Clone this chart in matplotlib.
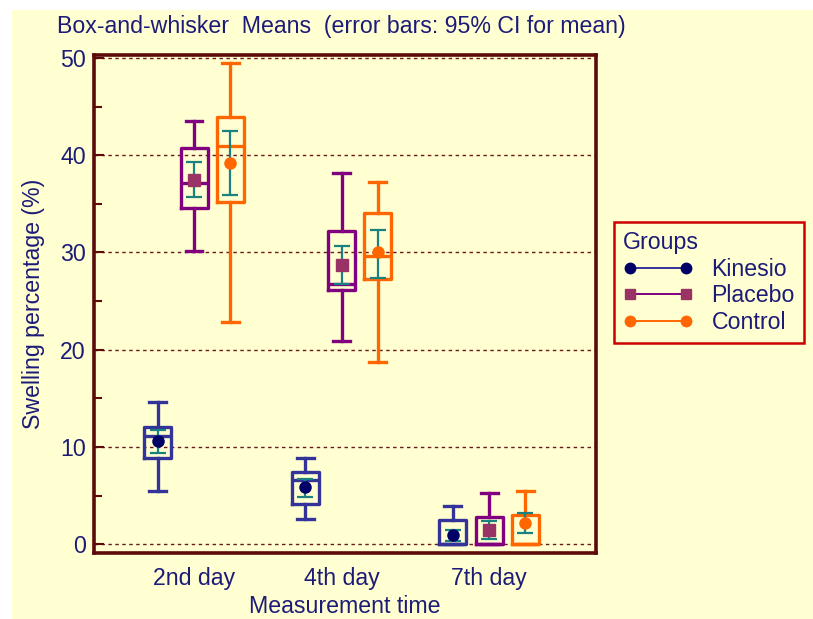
import matplotlib
matplotlib.use("Agg")
import matplotlib.pyplot as plt
from matplotlib.lines import Line2D
from matplotlib.patches import Rectangle
from matplotlib.ticker import MultipleLocator

plt.rcParams['font.family'] = ['Liberation Sans', 'DejaVu Sans']

categories = ["2nd day", "4th day", "7th day"]
groups = ["Kinesio", "Placebo", "Control"]

# box-and-whisker stats per group, per category
whislo = {"Kinesio": [5.5, 2.6, 0.0], "Placebo": [30.2, 20.9, 0.0], "Control": [22.8, 18.7, 0.0]}
q1     = {"Kinesio": [8.9, 4.1, 0.0], "Placebo": [34.6, 26.1, 0.0], "Control": [35.2, 27.3, 0.0]}
med    = {"Kinesio": [11.1, 6.6, 0.0], "Placebo": [37.1, 26.8, 0.0], "Control": [40.9, 29.6, 0.0]}
q3     = {"Kinesio": [12.1, 7.4, 2.5], "Placebo": [40.7, 32.2, 2.8], "Control": [43.9, 34.1, 3.0]}
whishi = {"Kinesio": [14.6, 8.85, 3.9], "Placebo": [43.5, 38.2, 5.3], "Control": [49.5, 37.2, 5.5]}
means  = {"Kinesio": [10.6, 5.9, 0.9], "Placebo": [37.5, 28.7, 1.5], "Control": [39.2, 30.0, 2.2]}
ci_lo  = {"Kinesio": [9.4, 4.9, 0.3], "Placebo": [35.7, 26.8, 0.5], "Control": [35.9, 27.4, 1.2]}
ci_hi  = {"Kinesio": [11.7, 6.7, 1.5], "Placebo": [39.3, 30.7, 2.4], "Control": [42.5, 32.3, 3.2]}

box_colors = {"Kinesio": "#333399", "Placebo": "#800080", "Control": "#FF6600"}
mean_colors = {"Kinesio": "#000066", "Placebo": "#993366", "Control": "#FF6600"}
mean_markers = {"Kinesio": "o", "Placebo": "s", "Control": "o"}
offsets = {"Kinesio": -0.247, "Placebo": 0.0, "Control": 0.247}

bg = "#FFFFD2"
frame_c = "#5C0A0A"
text_c = "#1C1C78"
ci_c = "#1A8080"
fs = 16.7

fig = plt.figure(figsize=(8.13, 6.19), dpi=100, facecolor="white")
fig.patches.append(Rectangle((12 / 813, 0), 1, 1 - 10 / 619, transform=fig.transFigure,
                             facecolor=bg, edgecolor="none", zorder=-10))

ax = fig.add_axes([94 / 813, 1 - 553 / 619, (596 - 94) / 813, (553 - 55) / 619])
ax.set_facecolor(bg)

for g in groups:
    c = box_colors[g]
    stats = []
    pos = []
    for i in range(len(categories)):
        stats.append(dict(whislo=whislo[g][i], q1=q1[g][i], med=med[g][i], q3=q3[g][i],
                          whishi=whishi[g][i], mean=means[g][i], fliers=[]))
        pos.append(i + 1 + offsets[g])
    ax.bxp(stats, positions=pos, widths=0.183, showmeans=False, showfliers=False,
           boxprops=dict(color=c, linewidth=2.4),
           medianprops=dict(color=c, linewidth=2.4),
           whiskerprops=dict(color=c, linewidth=2.4),
           capprops=dict(color=c, linewidth=2.4),
           capwidths=0.115, manage_ticks=False, zorder=3)
    ax.errorbar(pos, means[g],
                yerr=[[m - lo for m, lo in zip(means[g], ci_lo[g])],
                      [hi - m for m, hi in zip(means[g], ci_hi[g])]],
                fmt="none", ecolor=ci_c, elinewidth=1.6, capsize=5.5, capthick=1.6, zorder=4)
    ax.plot(pos, means[g], linestyle="none", marker=mean_markers[g],
            color=mean_colors[g], markersize=8, zorder=5)

ax.set_xlim(0.322, 3.725)
ax.set_ylim(-0.9, 50.3)
ax.set_xticks([1, 2, 3])
ax.set_xticklabels(categories)
ax.yaxis.set_major_locator(MultipleLocator(10))
ax.yaxis.set_minor_locator(MultipleLocator(5))
ax.tick_params(axis="x", length=0, labelsize=fs, labelcolor=text_c, pad=10)
ax.tick_params(axis="y", which="major", direction="in", length=7, width=1.5, color=frame_c,
               labelsize=fs, labelcolor=text_c, pad=6)
ax.tick_params(axis="y", which="minor", direction="in", length=6, width=1.5, color=frame_c)
ax.yaxis.grid(True, which="major", linestyle=(0, (2.5, 2.5)), color="#6A1A1A", linewidth=1.0)
ax.set_axisbelow(True)
for s in ax.spines.values():
    s.set_color(frame_c)
    s.set_linewidth(2.6)

ax.set_ylabel("Swelling percentage (%)", fontsize=fs, color=text_c, labelpad=11)
ax.set_xlabel("Measurement time", fontsize=fs, color=text_c, labelpad=4)

fig.text(57 / 813, 1 - 26 / 619, "Box-and-whisker  Means  (error bars: 95% CI for mean)",
         fontsize=fs, color=text_c, va="center", ha="left")

handles = [Line2D([0], [0], color=box_colors[g], marker=mean_markers[g],
                  markerfacecolor=mean_colors[g], markeredgecolor=mean_colors[g],
                  markersize=7.5, linewidth=1.4) for g in groups]
leg = fig.legend(handles, groups, title="Groups", loc="upper left",
                 bbox_to_anchor=(614 / 813, 1 - 222 / 619), numpoints=2,
                 handlelength=3.0, handletextpad=0.8, fontsize=fs, title_fontsize=fs,
                 fancybox=False, frameon=True, borderpad=0.4, labelspacing=0.15,
                 borderaxespad=0, facecolor=bg, edgecolor="#CC0000", framealpha=1)
leg.get_frame().set_linewidth(1.8)
leg._legend_box.align = "left"
for t in leg.get_texts():
    t.set_color(text_c)
leg.get_title().set_color(text_c)

fig.savefig("out.png", dpi=100, facecolor=fig.get_facecolor())
